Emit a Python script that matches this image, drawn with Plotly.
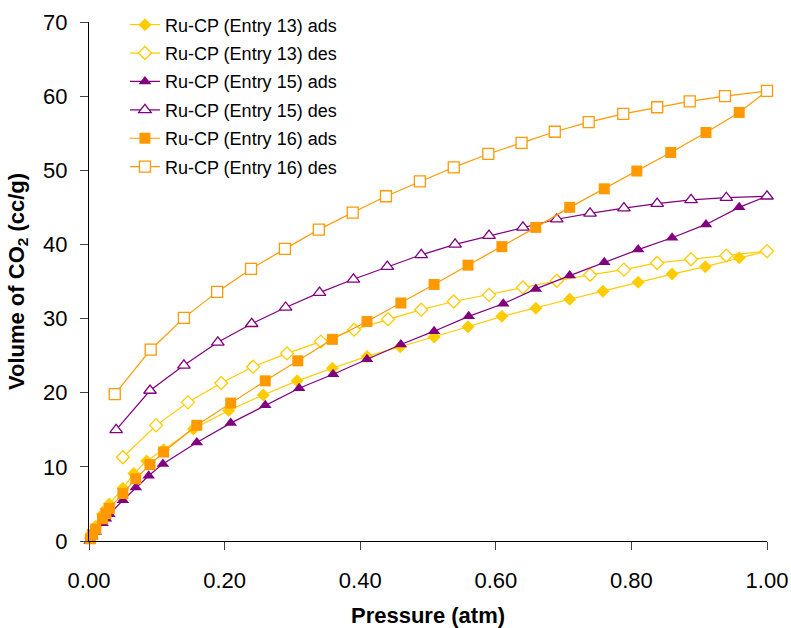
import plotly.graph_objects as go

# ---- data ----
x13_ads = [0.002, 0.005, 0.01, 0.02, 0.025, 0.03, 0.05, 0.066, 0.085, 0.11, 0.154, 0.206, 0.257, 0.307, 0.359,
           0.41, 0.459, 0.509, 0.559, 0.609, 0.659, 0.709, 0.758, 0.81, 0.86, 0.909, 0.959, 1.0]
y13_ads = [0.4, 1.1, 2.0, 3.6, 4.3, 5.0, 7.1, 9.1, 10.8, 12.3, 15.1, 17.6, 19.7, 21.6, 23.3,
           24.9, 26.2, 27.5, 28.9, 30.3, 31.4, 32.6, 33.7, 34.9, 36.0, 37.0, 38.2, 39.1]
x13_des = [1.0, 0.94, 0.888, 0.838, 0.789, 0.739, 0.69, 0.64, 0.59, 0.538, 0.49, 0.441, 0.391, 0.342,
           0.292, 0.242, 0.195, 0.146, 0.099, 0.05]
y13_des = [39.1, 38.5, 38.0, 37.5, 36.6, 35.9, 35.1, 34.2, 33.2, 32.3, 31.2, 29.9, 28.5, 26.9,
           25.3, 23.5, 21.3, 18.7, 15.6, 11.3]

x15_ads = [0.001, 0.005, 0.01, 0.02, 0.025, 0.03, 0.05, 0.069, 0.088, 0.109, 0.159, 0.209, 0.26, 0.31, 0.36,
           0.41, 0.46, 0.509, 0.56, 0.611, 0.659, 0.709, 0.76, 0.81, 0.86, 0.91, 0.959, 1.0]
y15_ads = [0.0, 0.6, 1.2, 2.4, 3.0, 3.6, 5.5, 7.2, 8.8, 10.4, 13.3, 15.9, 18.3, 20.6, 22.5,
           24.5, 26.5, 28.3, 30.3, 32.0, 34.0, 35.8, 37.6, 39.3, 40.9, 42.7, 45.0, 46.5]
x15_des = [1.0, 0.94, 0.888, 0.838, 0.789, 0.739, 0.69, 0.64, 0.59, 0.54, 0.49, 0.44, 0.39, 0.34,
           0.29, 0.24, 0.19, 0.14, 0.09, 0.04]
y15_des = [46.5, 46.3, 46.0, 45.5, 44.9, 44.2, 43.4, 42.3, 41.2, 40.0, 38.6, 37.0, 35.3, 33.5,
           31.5, 29.3, 26.8, 23.7, 20.3, 15.0]

x16_ads = [0.002, 0.005, 0.01, 0.02, 0.025, 0.03, 0.05, 0.069, 0.09, 0.11, 0.159, 0.209, 0.26, 0.308, 0.359,
           0.41, 0.46, 0.509, 0.559, 0.609, 0.659, 0.709, 0.76, 0.808, 0.858, 0.91, 0.959, 1.0]
y16_ads = [0.3, 0.9, 1.6, 3.0, 3.7, 4.4, 6.4, 8.4, 10.3, 12.0, 15.6, 18.6, 21.6, 24.3, 27.2,
           29.6, 32.1, 34.6, 37.2, 39.7, 42.3, 45.0, 47.5, 49.9, 52.4, 55.1, 57.8, 60.7]
x16_des = [1.0, 0.938, 0.886, 0.838, 0.788, 0.737, 0.687, 0.638, 0.589, 0.538, 0.488, 0.438, 0.389, 0.339,
           0.289, 0.239, 0.189, 0.14, 0.091, 0.038]
y16_des = [60.7, 60.0, 59.3, 58.5, 57.6, 56.5, 55.2, 53.7, 52.2, 50.4, 48.5, 46.5, 44.3, 42.0,
           39.4, 36.7, 33.6, 30.1, 25.8, 19.8]

YELLOW = "#FFCC00"
PURPLE = "#800080"
ORANGE = "#FF9900"

series = [
    ("Ru-CP (Entry 13) ads", x13_ads, y13_ads, YELLOW, "diamond", True, 10),
    ("Ru-CP (Entry 13) des", x13_des, y13_des, YELLOW, "diamond", False, 10),
    ("Ru-CP (Entry 15) ads", x15_ads, y15_ads, PURPLE, "triangle-up", True, 11),
    ("Ru-CP (Entry 15) des", x15_des, y15_des, PURPLE, "triangle-up", False, 11),
    ("Ru-CP (Entry 16) ads", x16_ads, y16_ads, ORANGE, "square", True, 11),
    ("Ru-CP (Entry 16) des", x16_des, y16_des, ORANGE, "square", False, 11),
]

fig = go.Figure()
for i, (name, xs, ys, col, sym, filled, size) in enumerate(series):
    fig.add_trace(go.Scatter(
        x=xs, y=ys, name=name, mode="lines+markers",
        line=dict(color=col, width=1.2),
        marker=dict(symbol=sym, size=size,
                    color=col if filled else "white",
                    line=dict(color=col, width=0 if filled else 1.3)),
        cliponaxis=False, legendgroup=f"g{i}",
    ))

FONT = "Arial, Liberation Sans, sans-serif"
fig.update_layout(
    width=791, height=628,
    margin=dict(l=89, r=24, t=22, b=87, autoexpand=False),
    paper_bgcolor="white", plot_bgcolor="white",
    font=dict(family=FONT, color="black"),
    showlegend=True,
    legend=dict(x=0.053, y=1.030, xanchor="left", yanchor="top",
                font=dict(size=18, family=FONT), bgcolor="rgba(0,0,0,0)",
                tracegroupgap=2),
    xaxis=dict(range=[0, 1], tickvals=[0, 0.2, 0.4, 0.6, 0.8, 1.0],
               ticktext=["0.00", "0.20", "0.40", "0.60", "0.80", "1.00"],
               showgrid=False, zeroline=False, showline=True, linecolor="black", linewidth=1.3,
               ticks="outside", ticklen=8, tickcolor="#444", tickwidth=1.3, automargin=False,
               tickfont=dict(size=22), ticklabelstandoff=11,
               title=dict(text="<b>Pressure (atm)</b>", font=dict(size=22), standoff=20)),
    yaxis=dict(range=[0, 70], tickvals=[0, 10, 20, 30, 40, 50, 60, 70],
               showgrid=False, zeroline=False, showline=True, linecolor="black", linewidth=1.3,
               ticks="outside", ticklen=8, tickcolor="#444", tickwidth=1.3, automargin=False,
               tickfont=dict(size=22), ticklabelstandoff=8,
               title=dict(text="<b>Volume of CO<sub>2</sub> (cc/g)</b>", font=dict(size=22), standoff=12)),
)

fig.write_html("out.html")
